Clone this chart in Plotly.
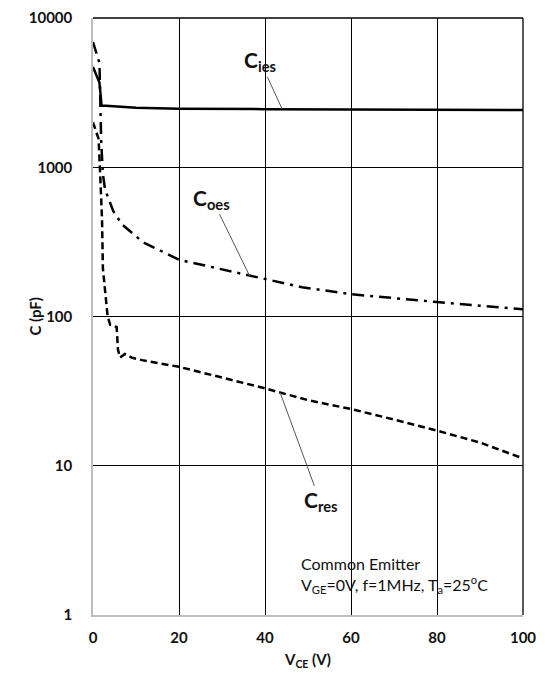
import math
import plotly.graph_objects as go

# ---- data ----
vce_ies = [0, 1.5, 2.0, 3, 10, 20, 40, 60, 80, 100]
c_ies = [4700, 3700, 2580, 2580, 2500, 2470, 2450, 2440, 2430, 2420]

vce_oes = [0, 1.5, 1.9, 2.3, 2.8, 4.7, 6.7, 11.6, 20, 36.5, 48.6, 60, 70, 80, 90, 100]
c_oes = [6900, 5000, 1500, 900, 710, 510, 415, 315, 240, 187, 157, 141, 132, 125, 118, 112]

vce_res = [0, 0.5, 1.3, 1.6, 2.1, 2.3, 3.0, 3.4, 4.0, 5.5, 5.8, 6.3, 7.4, 9, 11.4,
           20, 30, 40, 50, 60, 70, 80, 90, 100]
c_res = [2000, 1800, 1550, 1000, 445, 210, 120, 100, 88, 85, 60, 53, 56, 53, 51,
         46, 39, 33, 27.5, 24, 20.4, 17.2, 14.3, 11.2]

x_ticks = [0, 20, 40, 60, 80, 100]
y_ticks = [1, 10, 100, 1000, 10000]
y_tick_labels = ["1", "10", "100", "1000", "10000"]

FONT = "Lato"
INK = "#111111"

fig = go.Figure()
fig.add_trace(go.Scatter(x=vce_ies, y=c_ies, mode="lines", name="Cies",
                         line=dict(color="black", width=2.5)))
fig.add_trace(go.Scatter(x=vce_oes, y=c_oes, mode="lines", name="Coes",
                         line=dict(color="black", width=2.5, dash="12px,6px,3px,6px")))
fig.add_trace(go.Scatter(x=vce_res, y=c_res, mode="lines", name="Cres",
                         line=dict(color="black", width=2.5, dash="7px,4px")))

# curve labels with leader lines
labels = [
    ("C<sub>ies</sub>", 44, 2450, -22, -48),
    ("C<sub>oes</sub>", 36.5, 185, -38, -78),
    ("C<sub>res</sub>", 43.5, 31, 40, 109),
]
for txt, xv, yv, ax, ay in labels:
    fig.add_annotation(x=xv, y=math.log10(yv), text=txt,
                       showarrow=True, arrowhead=0, arrowwidth=1,
                       arrowcolor="#555555", ax=ax, ay=ay,
                       font=dict(family=FONT, size=21, color=INK, weight="bold"))

fig.add_annotation(xref="paper", yref="paper", x=0.479, y=0.067,
                   xanchor="left", yanchor="middle", align="left", showarrow=False,
                   text="Common Emitter<br>V<sub>GE</sub>=0V, f=1MHz, T<sub>a</sub>=25<sup>o</sup>C",
                   font=dict(family=FONT, size=16, color=INK))

# y-axis title placed next to the tick labels
fig.add_annotation(xref="paper", yref="paper", x=-0.137, y=0.5,
                   xanchor="center", yanchor="middle", showarrow=False,
                   textangle=-90, text="C (pF)",
                   font=dict(family=FONT, size=15, color=INK, weight="bold"))

# top and right frame in black
fig.add_shape(type="line", xref="paper", yref="paper", x0=0, x1=1, y0=1, y1=1,
              line=dict(color="black", width=1.3))
fig.add_shape(type="line", xref="paper", yref="paper", x0=1, x1=1, y0=0, y1=1,
              line=dict(color="black", width=1.3))

fig.update_layout(
    width=545, height=677,
    margin=dict(l=93, r=22, t=18, b=62),
    paper_bgcolor="white", plot_bgcolor="white",
    showlegend=False,
    font=dict(family=FONT, color=INK),
    xaxis=dict(range=[0, 100], tickvals=x_ticks, showgrid=True, automargin=False,
               gridcolor="black", gridwidth=1.3, zeroline=False,
               showline=True, linecolor="#bdbdbd", linewidth=1.5,
               ticks="", ticklabelstandoff=8,
               tickfont=dict(family=FONT, size=15, color=INK, weight="bold"),
               title=dict(text="V<sub>CE</sub> (V)", standoff=10,
                          font=dict(family=FONT, size=15, color=INK, weight="bold"))),
    yaxis=dict(type="log", range=[0, 4], tickvals=y_ticks, ticktext=y_tick_labels,
               showgrid=True, gridcolor="black", gridwidth=1.3, zeroline=False,
               showline=True, linecolor="#bdbdbd", linewidth=1.5, automargin=False,
               ticks="", ticklabelstandoff=16,
               tickfont=dict(family=FONT, size=15, color=INK, weight="bold")),
)

fig.write_html("out.html", config={"displayModeBar": False},
               post_script="document.body.style.margin='0';")
